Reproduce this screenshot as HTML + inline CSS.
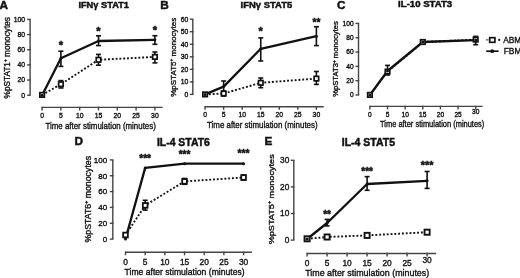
<!DOCTYPE html>
<html><head><meta charset="utf-8"><style>
html,body{margin:0;padding:0;background:#fff;width:520px;height:278px;overflow:hidden}
svg{display:block;will-change:transform}
text{font-family:"Liberation Sans", sans-serif;fill:#111;stroke:#111;stroke-width:0.35px}
</style></head><body>
<svg width="520" height="278" viewBox="0 0 520 278">
<rect width="520" height="278" fill="#fff"/>
<line x1="30.1" y1="19.4" x2="30.1" y2="95.2" stroke="#444" stroke-width="1.4"/>
<line x1="27.1" y1="95.20" x2="30.8" y2="95.20" stroke="#444" stroke-width="1.4"/>
<text x="25.0" y="97.65" font-size="6.8" text-anchor="end">0</text>
<line x1="27.1" y1="80.04" x2="30.8" y2="80.04" stroke="#444" stroke-width="1.4"/>
<text x="25.0" y="82.49" font-size="6.8" text-anchor="end">20</text>
<line x1="27.1" y1="64.88" x2="30.8" y2="64.88" stroke="#444" stroke-width="1.4"/>
<text x="25.0" y="67.33" font-size="6.8" text-anchor="end">40</text>
<line x1="27.1" y1="49.72" x2="30.8" y2="49.72" stroke="#444" stroke-width="1.4"/>
<text x="25.0" y="52.17" font-size="6.8" text-anchor="end">60</text>
<line x1="27.1" y1="34.56" x2="30.8" y2="34.56" stroke="#444" stroke-width="1.4"/>
<text x="25.0" y="37.01" font-size="6.8" text-anchor="end">80</text>
<line x1="27.1" y1="19.40" x2="30.8" y2="19.40" stroke="#444" stroke-width="1.4"/>
<text x="25.0" y="21.85" font-size="6.8" text-anchor="end">100</text>
<line x1="41.6" y1="107.4" x2="162.7" y2="107.4" stroke="#444" stroke-width="1.4"/>
<line x1="42.10" y1="106.7" x2="42.10" y2="110.4" stroke="#444" stroke-width="1.4"/>
<text x="42.10" y="117.90" font-size="6.8" text-anchor="middle">0</text>
<line x1="60.90" y1="106.7" x2="60.90" y2="110.4" stroke="#444" stroke-width="1.4"/>
<text x="60.90" y="117.90" font-size="6.8" text-anchor="middle">5</text>
<line x1="79.70" y1="106.7" x2="79.70" y2="110.4" stroke="#444" stroke-width="1.4"/>
<text x="79.70" y="117.90" font-size="6.8" text-anchor="middle">10</text>
<line x1="98.50" y1="106.7" x2="98.50" y2="110.4" stroke="#444" stroke-width="1.4"/>
<text x="98.50" y="117.90" font-size="6.8" text-anchor="middle">15</text>
<line x1="117.30" y1="106.7" x2="117.30" y2="110.4" stroke="#444" stroke-width="1.4"/>
<text x="117.30" y="117.90" font-size="6.8" text-anchor="middle">20</text>
<line x1="136.10" y1="106.7" x2="136.10" y2="110.4" stroke="#444" stroke-width="1.4"/>
<text x="136.10" y="117.90" font-size="6.8" text-anchor="middle">25</text>
<line x1="154.90" y1="106.7" x2="154.90" y2="110.4" stroke="#444" stroke-width="1.4"/>
<text x="154.90" y="117.90" font-size="6.8" text-anchor="middle">30</text>
<text x="45.5" y="128.6" font-size="8.8" text-anchor="start" textLength="110.3" lengthAdjust="spacingAndGlyphs">Time after stimulation (minutes)</text>
<text transform="translate(9.9,98.4) rotate(-90)" x="0" y="0" font-size="8.2" textLength="81.3" lengthAdjust="spacingAndGlyphs">%pSTAT1<tspan font-size="4.92" dy="-2.87">+</tspan><tspan dy="2.87"> monocytes</tspan></text>
<text x="-0.4" y="9.3" font-size="11.8" text-anchor="start" font-weight="bold" style="stroke-width:0.45px">A</text>
<text x="78.4" y="8.4" font-size="8.9" text-anchor="start" font-weight="bold" style="stroke-width:0.45px" textLength="50.6" lengthAdjust="spacingAndGlyphs">IFNγ STAT1</text>
<polyline points="42.10,94.90 60.90,84.20 98.50,59.80 154.90,56.90" fill="none" stroke="#111" stroke-width="1.9" stroke-dasharray="1.9 1.9"/>
<polyline points="42.10,95.20 60.90,58.20 98.50,41.00 154.90,39.80" fill="none" stroke="#111" stroke-width="2.3" stroke-linejoin="round"/>
<line x1="60.90" y1="80.6" x2="60.90" y2="88.0" stroke="#111" stroke-width="1.6"/>
<line x1="58.40" y1="80.6" x2="63.40" y2="80.6" stroke="#111" stroke-width="1.6"/>
<line x1="58.40" y1="88.0" x2="63.40" y2="88.0" stroke="#111" stroke-width="1.6"/>
<line x1="98.50" y1="54.4" x2="98.50" y2="65.2" stroke="#111" stroke-width="1.6"/>
<line x1="96.00" y1="54.4" x2="101.00" y2="54.4" stroke="#111" stroke-width="1.6"/>
<line x1="96.00" y1="65.2" x2="101.00" y2="65.2" stroke="#111" stroke-width="1.6"/>
<line x1="154.90" y1="52" x2="154.90" y2="62.9" stroke="#111" stroke-width="1.6"/>
<line x1="152.40" y1="52" x2="157.40" y2="52" stroke="#111" stroke-width="1.6"/>
<line x1="152.40" y1="62.9" x2="157.40" y2="62.9" stroke="#111" stroke-width="1.6"/>
<line x1="60.90" y1="51.2" x2="60.90" y2="66.4" stroke="#111" stroke-width="1.6"/>
<line x1="58.40" y1="51.2" x2="63.40" y2="51.2" stroke="#111" stroke-width="1.6"/>
<line x1="58.40" y1="66.4" x2="63.40" y2="66.4" stroke="#111" stroke-width="1.6"/>
<line x1="98.50" y1="35.8" x2="98.50" y2="45.6" stroke="#111" stroke-width="1.6"/>
<line x1="96.00" y1="35.8" x2="101.00" y2="35.8" stroke="#111" stroke-width="1.6"/>
<line x1="96.00" y1="45.6" x2="101.00" y2="45.6" stroke="#111" stroke-width="1.6"/>
<line x1="154.90" y1="35.7" x2="154.90" y2="44.3" stroke="#111" stroke-width="1.6"/>
<line x1="152.40" y1="35.7" x2="157.40" y2="35.7" stroke="#111" stroke-width="1.6"/>
<line x1="152.40" y1="44.3" x2="157.40" y2="44.3" stroke="#111" stroke-width="1.6"/>
<rect x="39.85" y="92.65" width="4.50" height="4.50" fill="#fff" stroke="#111" stroke-width="1.7"/>
<rect x="58.65" y="81.95" width="4.50" height="4.50" fill="#fff" stroke="#111" stroke-width="1.7"/>
<rect x="96.25" y="57.55" width="4.50" height="4.50" fill="#fff" stroke="#111" stroke-width="1.7"/>
<rect x="152.65" y="54.65" width="4.50" height="4.50" fill="#fff" stroke="#111" stroke-width="1.7"/>
<circle cx="42.10" cy="95.20" r="1.5" fill="#111"/>
<circle cx="60.90" cy="58.20" r="1.5" fill="#111"/>
<circle cx="98.50" cy="41.00" r="1.5" fill="#111"/>
<circle cx="154.90" cy="39.80" r="1.5" fill="#111"/>
<text x="60.90" y="48.62" font-size="11.2" text-anchor="middle" font-weight="bold" style="stroke-width:0.45px">*</text>
<text x="98.50" y="34.62" font-size="11.2" text-anchor="middle" font-weight="bold" style="stroke-width:0.45px">*</text>
<text x="154.90" y="34.22" font-size="11.2" text-anchor="middle" font-weight="bold" style="stroke-width:0.45px">*</text>
<line x1="192.8" y1="19.2" x2="192.8" y2="94.4" stroke="#444" stroke-width="1.4"/>
<line x1="189.8" y1="94.40" x2="193.5" y2="94.40" stroke="#444" stroke-width="1.4"/>
<text x="188.2" y="96.85" font-size="6.8" text-anchor="end">0</text>
<line x1="189.8" y1="81.87" x2="193.5" y2="81.87" stroke="#444" stroke-width="1.4"/>
<text x="188.2" y="84.31" font-size="6.8" text-anchor="end">10</text>
<line x1="189.8" y1="69.33" x2="193.5" y2="69.33" stroke="#444" stroke-width="1.4"/>
<text x="188.2" y="71.78" font-size="6.8" text-anchor="end">20</text>
<line x1="189.8" y1="56.80" x2="193.5" y2="56.80" stroke="#444" stroke-width="1.4"/>
<text x="188.2" y="59.25" font-size="6.8" text-anchor="end">30</text>
<line x1="189.8" y1="44.27" x2="193.5" y2="44.27" stroke="#444" stroke-width="1.4"/>
<text x="188.2" y="46.71" font-size="6.8" text-anchor="end">40</text>
<line x1="189.8" y1="31.73" x2="193.5" y2="31.73" stroke="#444" stroke-width="1.4"/>
<text x="188.2" y="34.18" font-size="6.8" text-anchor="end">50</text>
<line x1="189.8" y1="19.20" x2="193.5" y2="19.20" stroke="#444" stroke-width="1.4"/>
<text x="188.2" y="21.65" font-size="6.8" text-anchor="end">60</text>
<line x1="204.6" y1="106.8" x2="323.7" y2="106.8" stroke="#444" stroke-width="1.4"/>
<line x1="205.10" y1="106.1" x2="205.10" y2="109.8" stroke="#444" stroke-width="1.4"/>
<text x="205.10" y="117.10" font-size="6.8" text-anchor="middle">0</text>
<line x1="223.65" y1="106.1" x2="223.65" y2="109.8" stroke="#444" stroke-width="1.4"/>
<text x="223.65" y="117.10" font-size="6.8" text-anchor="middle">5</text>
<line x1="242.20" y1="106.1" x2="242.20" y2="109.8" stroke="#444" stroke-width="1.4"/>
<text x="242.20" y="117.10" font-size="6.8" text-anchor="middle">10</text>
<line x1="260.75" y1="106.1" x2="260.75" y2="109.8" stroke="#444" stroke-width="1.4"/>
<text x="260.75" y="117.10" font-size="6.8" text-anchor="middle">15</text>
<line x1="279.30" y1="106.1" x2="279.30" y2="109.8" stroke="#444" stroke-width="1.4"/>
<text x="279.30" y="117.10" font-size="6.8" text-anchor="middle">20</text>
<line x1="297.85" y1="106.1" x2="297.85" y2="109.8" stroke="#444" stroke-width="1.4"/>
<text x="297.85" y="117.10" font-size="6.8" text-anchor="middle">25</text>
<line x1="316.40" y1="106.1" x2="316.40" y2="109.8" stroke="#444" stroke-width="1.4"/>
<text x="316.40" y="117.10" font-size="6.8" text-anchor="middle">30</text>
<text x="207" y="127.9" font-size="8.8" text-anchor="start" textLength="110.6" lengthAdjust="spacingAndGlyphs">Time after stimulation (minutes)</text>
<text transform="translate(175.9,96.8) rotate(-90)" x="0" y="0" font-size="8.0" textLength="79" lengthAdjust="spacingAndGlyphs">%pSTAT5<tspan font-size="4.80" dy="-2.80">+</tspan><tspan dy="2.80"> monocytes</tspan></text>
<text x="160.2" y="9.4" font-size="11.8" text-anchor="start" font-weight="bold" style="stroke-width:0.45px">B</text>
<text x="240.6" y="8.4" font-size="8.9" text-anchor="start" font-weight="bold" style="stroke-width:0.45px" textLength="51.6" lengthAdjust="spacingAndGlyphs">IFNγ STAT5</text>
<polyline points="205.10,94.40 223.65,93.50 260.75,82.80 316.40,78.60" fill="none" stroke="#111" stroke-width="1.9" stroke-dasharray="1.9 1.9"/>
<polyline points="205.10,94.40 223.65,86.60 260.75,48.80 316.40,36.20" fill="none" stroke="#111" stroke-width="2.3" stroke-linejoin="round"/>
<line x1="223.65" y1="91" x2="223.65" y2="96" stroke="#111" stroke-width="1.6"/>
<line x1="221.15" y1="91" x2="226.15" y2="91" stroke="#111" stroke-width="1.6"/>
<line x1="221.15" y1="96" x2="226.15" y2="96" stroke="#111" stroke-width="1.6"/>
<line x1="260.75" y1="78" x2="260.75" y2="87.7" stroke="#111" stroke-width="1.6"/>
<line x1="258.25" y1="78" x2="263.25" y2="78" stroke="#111" stroke-width="1.6"/>
<line x1="258.25" y1="87.7" x2="263.25" y2="87.7" stroke="#111" stroke-width="1.6"/>
<line x1="316.40" y1="71.5" x2="316.40" y2="84.4" stroke="#111" stroke-width="1.6"/>
<line x1="313.90" y1="71.5" x2="318.90" y2="71.5" stroke="#111" stroke-width="1.6"/>
<line x1="313.90" y1="84.4" x2="318.90" y2="84.4" stroke="#111" stroke-width="1.6"/>
<line x1="223.65" y1="81.0" x2="223.65" y2="92.5" stroke="#111" stroke-width="1.6"/>
<line x1="221.15" y1="81.0" x2="226.15" y2="81.0" stroke="#111" stroke-width="1.6"/>
<line x1="221.15" y1="92.5" x2="226.15" y2="92.5" stroke="#111" stroke-width="1.6"/>
<line x1="260.75" y1="37.9" x2="260.75" y2="61.0" stroke="#111" stroke-width="1.6"/>
<line x1="258.25" y1="37.9" x2="263.25" y2="37.9" stroke="#111" stroke-width="1.6"/>
<line x1="258.25" y1="61.0" x2="263.25" y2="61.0" stroke="#111" stroke-width="1.6"/>
<line x1="316.40" y1="26.7" x2="316.40" y2="45.6" stroke="#111" stroke-width="1.6"/>
<line x1="313.90" y1="26.7" x2="318.90" y2="26.7" stroke="#111" stroke-width="1.6"/>
<line x1="313.90" y1="45.6" x2="318.90" y2="45.6" stroke="#111" stroke-width="1.6"/>
<rect x="202.85" y="92.15" width="4.50" height="4.50" fill="#fff" stroke="#111" stroke-width="1.7"/>
<rect x="221.40" y="91.25" width="4.50" height="4.50" fill="#fff" stroke="#111" stroke-width="1.7"/>
<rect x="258.50" y="80.55" width="4.50" height="4.50" fill="#fff" stroke="#111" stroke-width="1.7"/>
<rect x="314.15" y="76.35" width="4.50" height="4.50" fill="#fff" stroke="#111" stroke-width="1.7"/>
<circle cx="205.10" cy="94.40" r="1.5" fill="#111"/>
<circle cx="223.65" cy="86.60" r="1.5" fill="#111"/>
<circle cx="260.75" cy="48.80" r="1.5" fill="#111"/>
<circle cx="316.40" cy="36.20" r="1.5" fill="#111"/>
<text x="260.75" y="34.52" font-size="11" text-anchor="middle" font-weight="bold" style="stroke-width:0.45px">*</text>
<text x="316.40" y="26.32" font-size="10" text-anchor="middle" font-weight="bold" style="stroke-width:0.45px">**</text>
<line x1="358.5" y1="23.4" x2="358.5" y2="95.0" stroke="#444" stroke-width="1.4"/>
<line x1="355.5" y1="95.00" x2="359.2" y2="95.00" stroke="#444" stroke-width="1.4"/>
<text x="353.6" y="97.38" font-size="6.6" text-anchor="end">0</text>
<line x1="355.5" y1="80.68" x2="359.2" y2="80.68" stroke="#444" stroke-width="1.4"/>
<text x="353.6" y="83.06" font-size="6.6" text-anchor="end">20</text>
<line x1="355.5" y1="66.36" x2="359.2" y2="66.36" stroke="#444" stroke-width="1.4"/>
<text x="353.6" y="68.74" font-size="6.6" text-anchor="end">40</text>
<line x1="355.5" y1="52.04" x2="359.2" y2="52.04" stroke="#444" stroke-width="1.4"/>
<text x="353.6" y="54.42" font-size="6.6" text-anchor="end">60</text>
<line x1="355.5" y1="37.72" x2="359.2" y2="37.72" stroke="#444" stroke-width="1.4"/>
<text x="353.6" y="40.10" font-size="6.6" text-anchor="end">80</text>
<line x1="355.5" y1="23.40" x2="359.2" y2="23.40" stroke="#444" stroke-width="1.4"/>
<text x="353.6" y="25.78" font-size="6.6" text-anchor="end">100</text>
<line x1="369.4" y1="106.4" x2="482.7" y2="106.4" stroke="#444" stroke-width="1.4"/>
<line x1="369.90" y1="105.7" x2="369.90" y2="109.4" stroke="#444" stroke-width="1.4"/>
<text x="369.90" y="116.50" font-size="6.6" text-anchor="middle">0</text>
<line x1="387.53" y1="105.7" x2="387.53" y2="109.4" stroke="#444" stroke-width="1.4"/>
<text x="387.53" y="116.50" font-size="6.6" text-anchor="middle">5</text>
<line x1="405.16" y1="105.7" x2="405.16" y2="109.4" stroke="#444" stroke-width="1.4"/>
<text x="405.16" y="116.50" font-size="6.6" text-anchor="middle">10</text>
<line x1="422.79" y1="105.7" x2="422.79" y2="109.4" stroke="#444" stroke-width="1.4"/>
<text x="422.79" y="116.50" font-size="6.6" text-anchor="middle">15</text>
<line x1="440.42" y1="105.7" x2="440.42" y2="109.4" stroke="#444" stroke-width="1.4"/>
<text x="440.42" y="116.50" font-size="6.6" text-anchor="middle">20</text>
<line x1="458.05" y1="105.7" x2="458.05" y2="109.4" stroke="#444" stroke-width="1.4"/>
<text x="458.05" y="116.50" font-size="6.6" text-anchor="middle">25</text>
<line x1="475.68" y1="105.7" x2="475.68" y2="109.4" stroke="#444" stroke-width="1.4"/>
<text x="475.68" y="114.10" font-size="6.6" text-anchor="middle">30</text>
<text x="380" y="127.0" font-size="8.5" text-anchor="start" textLength="104.3" lengthAdjust="spacingAndGlyphs">Time after stimulation (minutes)</text>
<text transform="translate(338.3,96.8) rotate(-90)" x="0" y="0" font-size="7.5" textLength="75.6" lengthAdjust="spacingAndGlyphs">%pSTAT3<tspan font-size="4.50" dy="-2.62">+</tspan><tspan dy="2.62"> monocytes</tspan></text>
<text x="336.9" y="9.3" font-size="11.8" text-anchor="start" font-weight="bold" style="stroke-width:0.45px">C</text>
<text x="398.1" y="6.9" font-size="8.6" text-anchor="start" font-weight="bold" style="stroke-width:0.45px" textLength="54.1" lengthAdjust="spacingAndGlyphs">IL-10 STAT3</text>
<polyline points="369.90,94.90 387.53,71.60 422.79,42.00 475.68,39.60" fill="none" stroke="#111" stroke-width="1.9" stroke-dasharray="1.9 1.9"/>
<polyline points="369.90,95.00 387.53,71.00 422.79,42.00 475.68,40.10" fill="none" stroke="#111" stroke-width="2.3" stroke-linejoin="round"/>
<line x1="387.53" y1="65.4" x2="387.53" y2="75" stroke="#111" stroke-width="1.6"/>
<line x1="385.03" y1="65.4" x2="390.03" y2="65.4" stroke="#111" stroke-width="1.6"/>
<line x1="385.03" y1="75" x2="390.03" y2="75" stroke="#111" stroke-width="1.6"/>
<line x1="422.79" y1="40" x2="422.79" y2="44" stroke="#111" stroke-width="1.6"/>
<line x1="420.29" y1="40" x2="425.29" y2="40" stroke="#111" stroke-width="1.6"/>
<line x1="420.29" y1="44" x2="425.29" y2="44" stroke="#111" stroke-width="1.6"/>
<line x1="475.68" y1="36.4" x2="475.68" y2="44.7" stroke="#111" stroke-width="1.6"/>
<line x1="473.18" y1="36.4" x2="478.18" y2="36.4" stroke="#111" stroke-width="1.6"/>
<line x1="473.18" y1="44.7" x2="478.18" y2="44.7" stroke="#111" stroke-width="1.6"/>
<rect x="367.65" y="92.65" width="4.50" height="4.50" fill="#fff" stroke="#111" stroke-width="1.7"/>
<rect x="385.28" y="69.35" width="4.50" height="4.50" fill="#fff" stroke="#111" stroke-width="1.7"/>
<rect x="420.54" y="39.75" width="4.50" height="4.50" fill="#fff" stroke="#111" stroke-width="1.7"/>
<rect x="473.43" y="37.35" width="4.50" height="4.50" fill="#fff" stroke="#111" stroke-width="1.7"/>
<circle cx="369.90" cy="95.00" r="1.5" fill="#111"/>
<circle cx="387.53" cy="71.00" r="1.5" fill="#111"/>
<circle cx="422.79" cy="42.00" r="1.5" fill="#111"/>
<circle cx="475.68" cy="40.10" r="1.5" fill="#111"/>
<line x1="112.8" y1="159.9" x2="112.8" y2="239.1" stroke="#444" stroke-width="1.4"/>
<line x1="109.8" y1="239.10" x2="113.5" y2="239.10" stroke="#444" stroke-width="1.4"/>
<text x="107.2" y="241.98" font-size="8.0" text-anchor="end">0</text>
<line x1="109.8" y1="223.26" x2="113.5" y2="223.26" stroke="#444" stroke-width="1.4"/>
<text x="107.2" y="226.14" font-size="8.0" text-anchor="end">20</text>
<line x1="109.8" y1="207.42" x2="113.5" y2="207.42" stroke="#444" stroke-width="1.4"/>
<text x="107.2" y="210.30" font-size="8.0" text-anchor="end">40</text>
<line x1="109.8" y1="191.58" x2="113.5" y2="191.58" stroke="#444" stroke-width="1.4"/>
<text x="107.2" y="194.46" font-size="8.0" text-anchor="end">60</text>
<line x1="109.8" y1="175.74" x2="113.5" y2="175.74" stroke="#444" stroke-width="1.4"/>
<text x="107.2" y="178.62" font-size="8.0" text-anchor="end">80</text>
<line x1="109.8" y1="159.90" x2="113.5" y2="159.90" stroke="#444" stroke-width="1.4"/>
<text x="107.2" y="162.78" font-size="8.0" text-anchor="end">100</text>
<line x1="125.0" y1="252.3" x2="251.9" y2="252.3" stroke="#444" stroke-width="1.4"/>
<line x1="125.50" y1="251.60000000000002" x2="125.50" y2="255.3" stroke="#444" stroke-width="1.4"/>
<text x="125.50" y="265.00" font-size="8.4" text-anchor="middle">0</text>
<line x1="145.18" y1="251.60000000000002" x2="145.18" y2="255.3" stroke="#444" stroke-width="1.4"/>
<text x="145.18" y="265.00" font-size="8.4" text-anchor="middle">5</text>
<line x1="164.86" y1="251.60000000000002" x2="164.86" y2="255.3" stroke="#444" stroke-width="1.4"/>
<text x="164.86" y="265.00" font-size="8.4" text-anchor="middle">10</text>
<line x1="184.54" y1="251.60000000000002" x2="184.54" y2="255.3" stroke="#444" stroke-width="1.4"/>
<text x="184.54" y="265.00" font-size="8.4" text-anchor="middle">15</text>
<line x1="204.22" y1="251.60000000000002" x2="204.22" y2="255.3" stroke="#444" stroke-width="1.4"/>
<text x="204.22" y="265.00" font-size="8.4" text-anchor="middle">20</text>
<line x1="223.90" y1="251.60000000000002" x2="223.90" y2="255.3" stroke="#444" stroke-width="1.4"/>
<text x="223.90" y="265.00" font-size="8.4" text-anchor="middle">25</text>
<line x1="243.58" y1="251.60000000000002" x2="243.58" y2="255.3" stroke="#444" stroke-width="1.4"/>
<text x="243.58" y="265.00" font-size="8.4" text-anchor="middle">30</text>
<text x="124.6" y="274.8" font-size="8.9" text-anchor="start" textLength="120" lengthAdjust="spacingAndGlyphs">Time after stimulation (minutes)</text>
<text transform="translate(90.9,242.5) rotate(-90)" x="0" y="0" font-size="8.4" textLength="86.6" lengthAdjust="spacingAndGlyphs">%pSTAT6<tspan font-size="5.04" dy="-2.94">+</tspan><tspan dy="2.94"> monocytes</tspan></text>
<text x="74.4" y="145.1" font-size="11.8" text-anchor="start" font-weight="bold" style="stroke-width:0.45px">D</text>
<text x="156.9" y="145.6" font-size="10.4" text-anchor="start" font-weight="bold" style="stroke-width:0.45px" textLength="53" lengthAdjust="spacingAndGlyphs">IL-4 STAT6</text>
<polyline points="125.50,235.00 145.18,205.40 184.54,181.40 243.58,177.50" fill="none" stroke="#111" stroke-width="1.9" stroke-dasharray="1.9 1.9"/>
<polyline points="125.50,239.00 145.18,167.90 184.54,163.70 243.58,163.70" fill="none" stroke="#111" stroke-width="2.3" stroke-linejoin="round"/>
<line x1="145.18" y1="200.3" x2="145.18" y2="210.1" stroke="#111" stroke-width="1.6"/>
<line x1="142.68" y1="200.3" x2="147.68" y2="200.3" stroke="#111" stroke-width="1.6"/>
<line x1="142.68" y1="210.1" x2="147.68" y2="210.1" stroke="#111" stroke-width="1.6"/>
<line x1="184.54" y1="178.5" x2="184.54" y2="184.3" stroke="#111" stroke-width="1.6"/>
<line x1="182.04" y1="178.5" x2="187.04" y2="178.5" stroke="#111" stroke-width="1.6"/>
<line x1="182.04" y1="184.3" x2="187.04" y2="184.3" stroke="#111" stroke-width="1.6"/>
<line x1="243.58" y1="175" x2="243.58" y2="180" stroke="#111" stroke-width="1.6"/>
<line x1="241.08" y1="175" x2="246.08" y2="175" stroke="#111" stroke-width="1.6"/>
<line x1="241.08" y1="180" x2="246.08" y2="180" stroke="#111" stroke-width="1.6"/>
<rect x="123.15" y="232.65" width="4.70" height="4.70" fill="#fff" stroke="#111" stroke-width="1.8"/>
<rect x="142.83" y="203.05" width="4.70" height="4.70" fill="#fff" stroke="#111" stroke-width="1.8"/>
<rect x="182.19" y="179.05" width="4.70" height="4.70" fill="#fff" stroke="#111" stroke-width="1.8"/>
<rect x="241.23" y="175.15" width="4.70" height="4.70" fill="#fff" stroke="#111" stroke-width="1.8"/>
<circle cx="125.50" cy="239.00" r="1.5" fill="#111"/>
<circle cx="145.18" cy="167.90" r="1.5" fill="#111"/>
<circle cx="184.54" cy="163.70" r="1.5" fill="#111"/>
<circle cx="243.58" cy="163.70" r="1.5" fill="#111"/>
<text x="145.18" y="162.12" font-size="10" text-anchor="middle" font-weight="bold" style="stroke-width:0.45px">***</text>
<text x="184.54" y="158.42" font-size="10" text-anchor="middle" font-weight="bold" style="stroke-width:0.45px">***</text>
<text x="243.58" y="157.47" font-size="10.3" text-anchor="middle" font-weight="bold" style="stroke-width:0.45px">***</text>
<line x1="293.8" y1="160.3" x2="293.8" y2="240.1" stroke="#444" stroke-width="1.4"/>
<line x1="290.8" y1="240.10" x2="294.5" y2="240.10" stroke="#444" stroke-width="1.4"/>
<text x="289.3" y="243.09" font-size="8.3" text-anchor="end">0</text>
<line x1="290.8" y1="213.50" x2="294.5" y2="213.50" stroke="#444" stroke-width="1.4"/>
<text x="289.3" y="216.49" font-size="8.3" text-anchor="end">10</text>
<line x1="290.8" y1="186.90" x2="294.5" y2="186.90" stroke="#444" stroke-width="1.4"/>
<text x="289.3" y="189.89" font-size="8.3" text-anchor="end">20</text>
<line x1="290.8" y1="160.30" x2="294.5" y2="160.30" stroke="#444" stroke-width="1.4"/>
<text x="289.3" y="163.29" font-size="8.3" text-anchor="end">30</text>
<line x1="306.6" y1="253.5" x2="436.2" y2="253.5" stroke="#444" stroke-width="1.4"/>
<line x1="307.10" y1="252.8" x2="307.10" y2="256.5" stroke="#444" stroke-width="1.4"/>
<text x="307.10" y="265.80" font-size="8.4" text-anchor="middle">0</text>
<line x1="327.10" y1="252.8" x2="327.10" y2="256.5" stroke="#444" stroke-width="1.4"/>
<text x="327.10" y="265.80" font-size="8.4" text-anchor="middle">5</text>
<line x1="347.10" y1="252.8" x2="347.10" y2="256.5" stroke="#444" stroke-width="1.4"/>
<text x="347.10" y="265.80" font-size="8.4" text-anchor="middle">10</text>
<line x1="367.10" y1="252.8" x2="367.10" y2="256.5" stroke="#444" stroke-width="1.4"/>
<text x="367.10" y="265.80" font-size="8.4" text-anchor="middle">15</text>
<line x1="387.10" y1="252.8" x2="387.10" y2="256.5" stroke="#444" stroke-width="1.4"/>
<text x="387.10" y="265.80" font-size="8.4" text-anchor="middle">20</text>
<line x1="407.10" y1="252.8" x2="407.10" y2="256.5" stroke="#444" stroke-width="1.4"/>
<text x="407.10" y="265.80" font-size="8.4" text-anchor="middle">25</text>
<line x1="427.10" y1="252.8" x2="427.10" y2="256.5" stroke="#444" stroke-width="1.4"/>
<text x="427.10" y="263.40" font-size="8.4" text-anchor="middle">30</text>
<text x="305.2" y="276.2" font-size="8.9" text-anchor="start" textLength="124" lengthAdjust="spacingAndGlyphs">Time after stimulation (minutes)</text>
<text transform="translate(273.8,244.3) rotate(-90)" x="0" y="0" font-size="8.0" textLength="90" lengthAdjust="spacingAndGlyphs">%pSTAT5<tspan font-size="4.80" dy="-2.80">+</tspan><tspan dy="2.80"> monocytes</tspan></text>
<text x="264.6" y="145.1" font-size="11.8" text-anchor="start" font-weight="bold" style="stroke-width:0.45px">E</text>
<text x="341.8" y="146.0" font-size="10.2" text-anchor="start" font-weight="bold" style="stroke-width:0.45px" textLength="53.2" lengthAdjust="spacingAndGlyphs">IL-4 STAT5</text>
<polyline points="307.10,238.80 327.10,237.00 367.10,235.40 427.10,232.20" fill="none" stroke="#111" stroke-width="1.9" stroke-dasharray="1.9 1.9"/>
<polyline points="307.10,239.00 327.10,223.00 367.10,184.00 427.10,180.80" fill="none" stroke="#111" stroke-width="2.3" stroke-linejoin="round"/>
<line x1="327.10" y1="219.4" x2="327.10" y2="225.9" stroke="#111" stroke-width="1.6"/>
<line x1="324.60" y1="219.4" x2="329.60" y2="219.4" stroke="#111" stroke-width="1.6"/>
<line x1="324.60" y1="225.9" x2="329.60" y2="225.9" stroke="#111" stroke-width="1.6"/>
<line x1="367.10" y1="176.6" x2="367.10" y2="190.3" stroke="#111" stroke-width="1.6"/>
<line x1="364.60" y1="176.6" x2="369.60" y2="176.6" stroke="#111" stroke-width="1.6"/>
<line x1="364.60" y1="190.3" x2="369.60" y2="190.3" stroke="#111" stroke-width="1.6"/>
<line x1="427.10" y1="171.5" x2="427.10" y2="188.4" stroke="#111" stroke-width="1.6"/>
<line x1="424.60" y1="171.5" x2="429.60" y2="171.5" stroke="#111" stroke-width="1.6"/>
<line x1="424.60" y1="188.4" x2="429.60" y2="188.4" stroke="#111" stroke-width="1.6"/>
<rect x="304.55" y="236.25" width="5.10" height="5.10" fill="#fff" stroke="#111" stroke-width="1.9"/>
<rect x="324.55" y="234.45" width="5.10" height="5.10" fill="#fff" stroke="#111" stroke-width="1.9"/>
<rect x="364.55" y="232.85" width="5.10" height="5.10" fill="#fff" stroke="#111" stroke-width="1.9"/>
<rect x="424.55" y="229.65" width="5.10" height="5.10" fill="#fff" stroke="#111" stroke-width="1.9"/>
<circle cx="307.10" cy="239.00" r="1.5" fill="#111"/>
<circle cx="327.10" cy="223.00" r="1.5" fill="#111"/>
<circle cx="367.10" cy="184.00" r="1.5" fill="#111"/>
<circle cx="427.10" cy="180.80" r="1.5" fill="#111"/>
<text x="327.10" y="217.62" font-size="10" text-anchor="middle" font-weight="bold" style="stroke-width:0.45px">**</text>
<text x="367.10" y="174.82" font-size="10" text-anchor="middle" font-weight="bold" style="stroke-width:0.45px">***</text>
<text x="427.10" y="169.02" font-size="10.8" text-anchor="middle" font-weight="bold" style="stroke-width:0.45px">***</text>
<line x1="486.3" y1="39.9" x2="489.5" y2="39.9" stroke="#111" stroke-width="1.4" stroke-dasharray="1.4 1"/>
<rect x="489.7" y="37.7" width="5.2" height="4.6" fill="#fff" stroke="#111" stroke-width="1.7"/>
<circle cx="499.2" cy="39.9" r="1.1" fill="#111"/>
<text x="503.2" y="42.8" font-size="8.3" text-anchor="start">ABM</text>
<line x1="486.2" y1="51.2" x2="498.6" y2="51.2" stroke="#111" stroke-width="1.7"/>
<circle cx="492.2" cy="51.2" r="1.9" fill="#111"/>
<text x="503.8" y="54.3" font-size="8.3" text-anchor="start">FBM</text>
</svg>
</body></html>
